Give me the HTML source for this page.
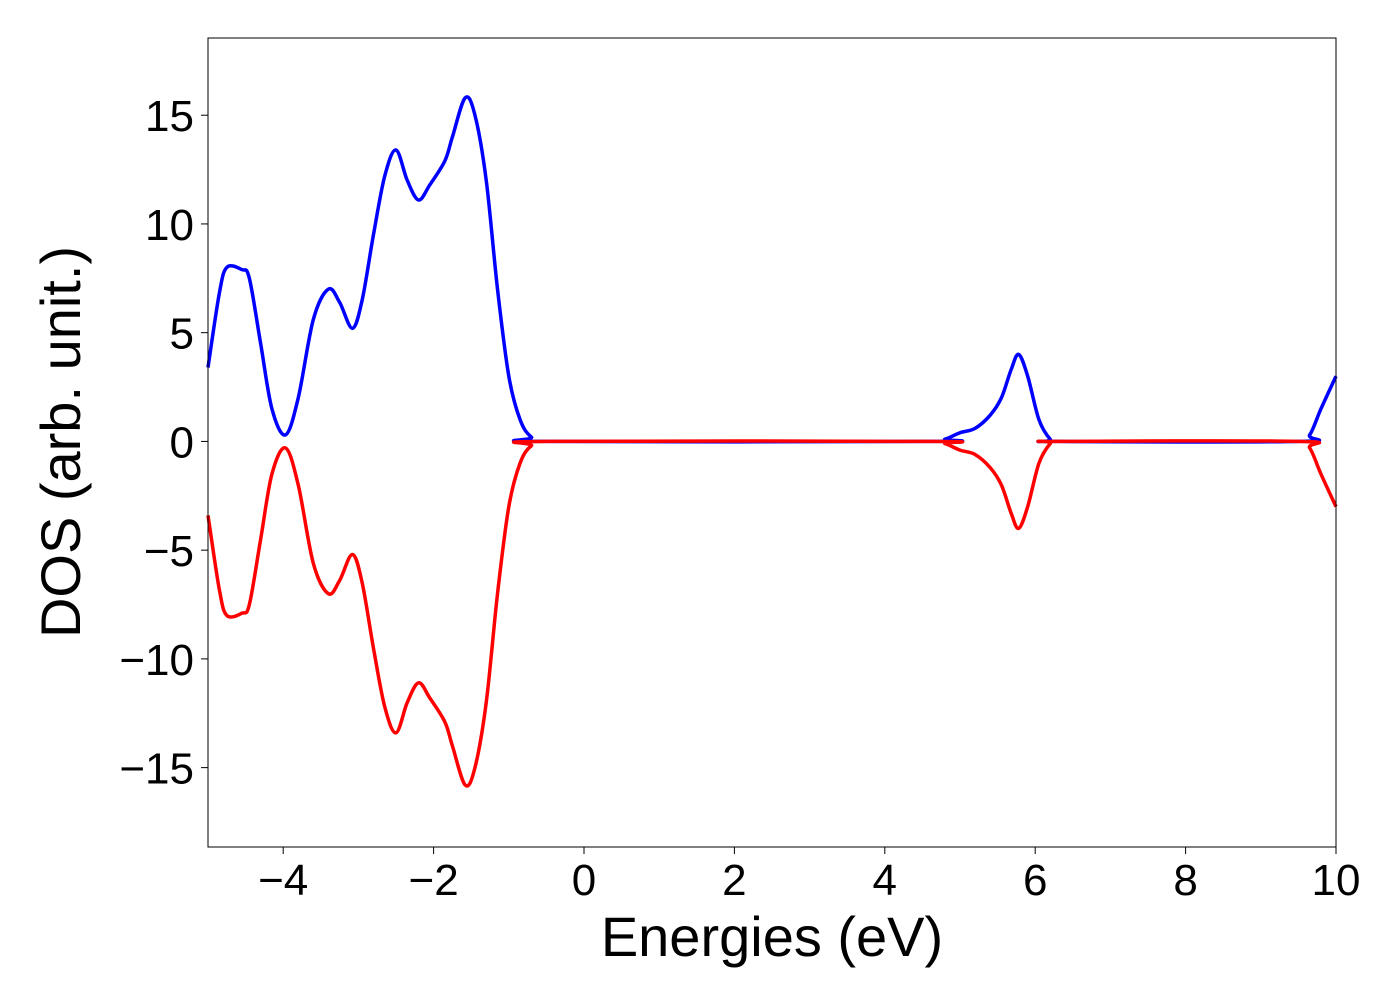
<!DOCTYPE html>
<html><head><meta charset="utf-8">
<style>
html,body{margin:0;padding:0;background:#fff;}
svg{display:block;font-family:"Liberation Sans","DejaVu Sans",sans-serif;}
</style></head>
<body>
<svg id="chart" width="1400" height="1000" viewBox="0 0 1400 1000" xmlns="http://www.w3.org/2000/svg">
<g id="ticks"></g>
<g id="series"></g>
<rect x="208" y="38" width="1128" height="809" fill="none" stroke="#000" stroke-width="1"/>
<text x="772" y="956" font-size="56" text-anchor="middle">Energies (eV)</text>
<text transform="translate(80,442) rotate(-90)" font-size="56" text-anchor="middle">DOS (arb. unit.)</text>
</svg>
<script>
const energies = [-5.0,-4.85,-4.75,-4.55,-4.45,-4.3,-4.15,-3.97,-3.8,-3.6,-3.4,-3.25,-3.08,-2.95,-2.8,-2.65,-2.5,-2.35,-2.2,-2.05,-1.85,-1.75,-1.58,-1.45,-1.3,-1.15,-1.0,-0.85,-0.7,-0.5,4.6,4.8,5.0,5.2,5.4,5.55,5.68,5.78,5.9,6.05,6.2,6.3,9.5,9.65,9.8,10.0];
const dosUp = [3.4,6.8,8.0,7.9,7.5,4.5,1.5,0.3,2.0,5.6,7.0,6.4,5.2,6.5,9.5,12.2,13.4,12.0,11.1,11.8,12.9,14.0,15.8,15.0,12.0,7.0,3.0,1.0,0.2,0,0,0.1,0.4,0.6,1.2,2.0,3.3,4.0,3.0,1.0,0.1,0,0,0.3,1.5,3.0];
const dosDown = dosUp.map(v => -v);
const xTicks = [-4,-2,0,2,4,6,8,10];
const yTicks = [-15,-10,-5,0,5,10,15];
const X0=208,X1=1336,Y0=38,Y1=847, xmin=-5,xmax=10,ymin=-18.65,ymax=18.55;
const sx = v => X0+(v-xmin)/(xmax-xmin)*(X1-X0);
const sy = v => Y1-(v-ymin)/(ymax-ymin)*(Y1-Y0);
const NS="http://www.w3.org/2000/svg";
const fmt = v => (v<0?"\u2212":"")+Math.abs(v);
const tg=document.getElementById("ticks");
xTicks.forEach(t=>{
  const l=document.createElementNS(NS,"line");
  
  
  l.setAttribute("x1",sx(t));l.setAttribute("x2",sx(t));l.setAttribute("y1",Y1);l.setAttribute("y2",Y1+7);l.setAttribute("stroke","#000");
  tg.appendChild(l);
  const tx=document.createElementNS(NS,"text");
  
  
  tx.setAttribute("x",sx(t));tx.setAttribute("y",Y1+48);tx.setAttribute("font-size","44");tx.setAttribute("text-anchor","middle");
  tx.textContent=fmt(t);tg.appendChild(tx);
});
yTicks.forEach(t=>{
  const l=document.createElementNS(NS,"line");
  
  
  l.setAttribute("x1",X0-7);l.setAttribute("x2",X0);l.setAttribute("y1",sy(t));l.setAttribute("y2",sy(t));l.setAttribute("stroke","#000");
  tg.appendChild(l);
  const tx=document.createElementNS(NS,"text");
  
  
  tx.setAttribute("x",X0-14);tx.setAttribute("y",sy(t)+16);tx.setAttribute("font-size","44");tx.setAttribute("text-anchor","end");
  tx.textContent=fmt(t);tg.appendChild(tx);
});
function pathFor(xs,ys){
  const p=xs.map((x,i)=>[sx(x),sy(ys[i])]);
  let d="M"+p[0][0]+","+p[0][1];
  for(let i=0;i<p.length-1;i++){
    const a=p[Math.max(0,i-1)],b=p[i],c=p[i+1],e=p[Math.min(p.length-1,i+2)];
    const c1=[b[0]+(c[0]-a[0])/6,b[1]+(c[1]-a[1])/6];
    const c2=[c[0]-(e[0]-b[0])/6,c[1]-(e[1]-b[1])/6];
    d+=" C"+c1[0]+","+c1[1]+" "+c2[0]+","+c2[1]+" "+c[0]+","+c[1];
  }
  return d;
}
const sg=document.getElementById("series");
[[dosUp,"#0000ff","dos-spin-up-line"],[dosDown,"#ff0000","dos-spin-down-line"]].forEach(([ys,col,nm])=>{
  const pa=document.createElementNS(NS,"path");
  
  
  pa.setAttribute("d",pathFor(energies,ys));pa.setAttribute("fill","none");pa.setAttribute("stroke",col);pa.setAttribute("stroke-width","3.5");
  sg.appendChild(pa);
});
</script>
</body></html>
